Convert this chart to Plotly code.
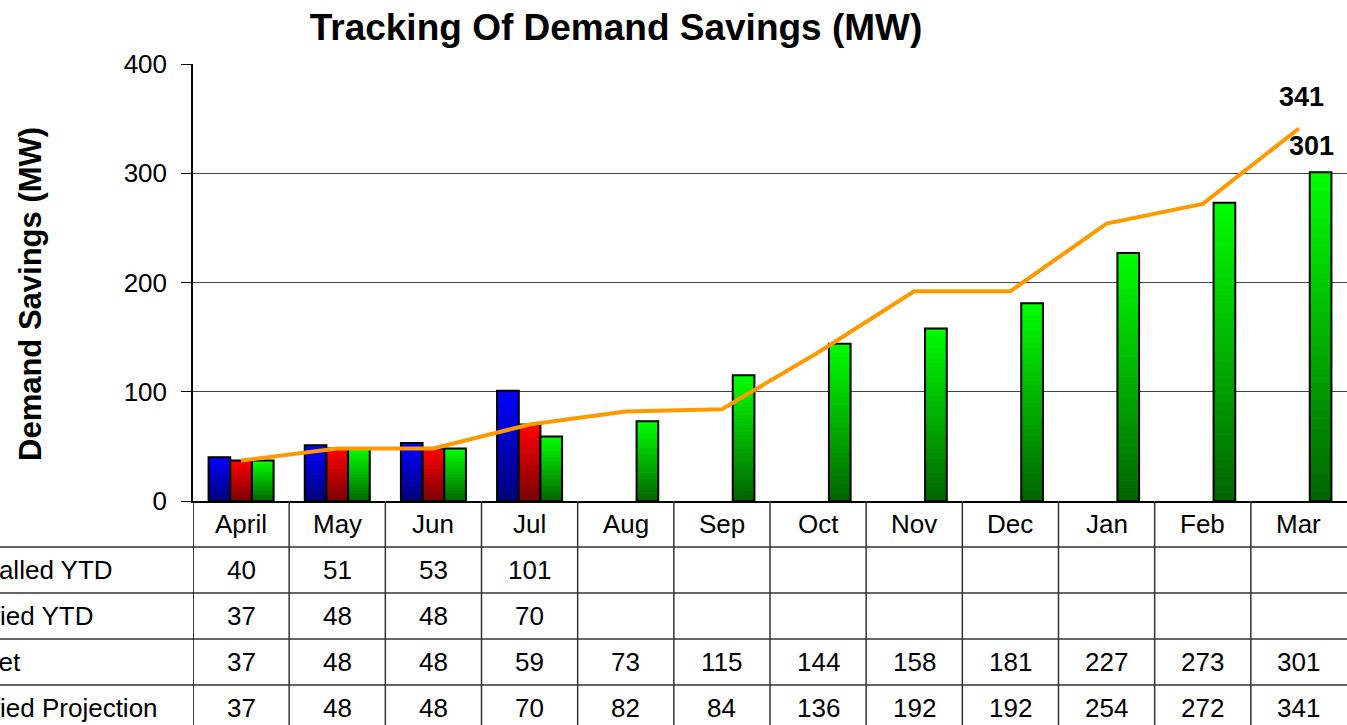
import plotly.graph_objects as go

months = ["April", "May", "Jun", "Jul", "Aug", "Sep", "Oct", "Nov", "Dec", "Jan", "Feb", "Mar"]
installed_ytd = [40, 51, 53, 101, None, None, None, None, None, None, None, None]
verified_ytd = [37, 48, 48, 70, None, None, None, None, None, None, None, None]
target = [37, 48, 48, 59, 73, 115, 144, 158, 181, 227, 273, 301]
verified_projection = [37, 48, 48, 70, 82, 84, 136, 192, 192, 254, 272, 341]
row_labels = ["Installed YTD", "Verified YTD", "Target", "Verified Projection"]
y_ticks = [0, 100, 200, 300, 400]

FONT = "Liberation Sans, Arial, sans-serif"
N_SEG = 36
TXT = 26

def lerp(c0, c1, t):
    return "rgb(%d,%d,%d)" % tuple(round(a + (b - a) * t) for a, b in zip(c0, c1))

fig = go.Figure()

series = [
    (installed_ytd, "inst", (0, 0, 120), (0, 0, 255), row_labels[0]),
    (verified_ytd, "ver", (120, 0, 0), (255, 0, 0), row_labels[1]),
    (target, "tgt", (0, 100, 0), (0, 255, 0), row_labels[2]),
]

for vals, grp, c_bot, c_top, name in series:
    for k in range(N_SEG):
        col = lerp(c_bot, c_top, (k + 0.5) / N_SEG)
        fig.add_trace(go.Bar(
            x=months,
            y=[v / N_SEG if v is not None else None for v in vals],
            base=[v * k / N_SEG if v is not None else None for v in vals],
            offsetgroup=grp,
            marker=dict(color=col, line=dict(color=col, width=1)),
            hoverinfo="skip", showlegend=False,
        ))
    fig.add_trace(go.Bar(
        x=months, y=vals, offsetgroup=grp, name=name,
        marker=dict(color="rgba(0,0,0,0)", line=dict(color="black", width=2)),
        showlegend=False,
    ))

fig.add_trace(go.Scatter(
    x=months, y=verified_projection, mode="lines", name=row_labels[3],
    line=dict(color="#FF9900", width=4), showlegend=False,
))

# table geometry (paper units relative to plot area)
plot_w = 1347 - 193
plot_h = 501 - 64
row_h = 46 / plot_h
left_edge = -193 / plot_w

shapes = []
for k in range(1, 5):
    shapes.append(dict(type="line", xref="paper", yref="paper",
                       x0=left_edge, x1=1, y0=-k * row_h, y1=-k * row_h,
                       line=dict(color="#333333", width=1.5)))
for i in range(len(months)):
    shapes.append(dict(type="line", xref="x", yref="paper",
                       x0=i - 0.5, x1=i - 0.5, y0=0, y1=-5 * row_h,
                       line=dict(color="#333333" if i else "black", width=1.5)))

annotations = []
table_rows = [installed_ytd, verified_ytd, target, verified_projection]
label_starts = [-45, -54, -54, -54]  # px left of the figure edge (labels run off the left side)
for r, (lab, vals) in enumerate(zip(row_labels, table_rows)):
    yc = -(r + 1.5) * row_h
    annotations.append(dict(x=left_edge + label_starts[r] / plot_w, xref="paper", y=yc, yref="paper",
                            text=lab, showarrow=False, xanchor="left", yanchor="middle",
                            font=dict(family=FONT, size=TXT, color="black")))
    for m, v in zip(months, vals):
        if v is None:
            continue
        annotations.append(dict(x=m, xref="x", y=yc, yref="paper", text=str(v),
                                showarrow=False, xanchor="center", yanchor="middle",
                                font=dict(family=FONT, size=TXT, color="black")))
for m in months:
    annotations.append(dict(x=m, xref="x", y=-0.5 * row_h, yref="paper", text=m,
                            showarrow=False, xanchor="center", yanchor="middle",
                            font=dict(family=FONT, size=TXT, color="black")))

annotations.append(dict(x=months[-1], y=verified_projection[-1], xref="x", yref="y",
                        text="<b>%d</b>" % verified_projection[-1], showarrow=False,
                        yanchor="bottom", yshift=14, xshift=3,
                        font=dict(family=FONT, size=27, color="black")))
annotations.append(dict(x=months[-1], y=target[-1], xref="x", yref="y",
                        text="<b>%d</b>" % target[-1], showarrow=False,
                        yanchor="bottom", yshift=9, xshift=13,
                        font=dict(family=FONT, size=27, color="black")))
annotations.append(dict(x=(30 - 193) / plot_w, xref="paper", y=(501 - 294) / plot_h, yref="paper",
                        text="<b>Demand Savings (MW)</b>", textangle=-90, showarrow=False,
                        xanchor="center", yanchor="middle",
                        font=dict(family=FONT, size=31, color="black")))

fig.update_layout(
    width=1347, height=725,
    margin=dict(l=193, r=0, t=64, b=224),
    paper_bgcolor="white", plot_bgcolor="white",
    barmode="group", bargap=0.324, bargroupgap=0,
    title=dict(text="<b>Tracking Of Demand Savings (MW)</b>", x=616 / 1347, xref="container",
               xanchor="center", y=1 - 27 / 725, yref="container", yanchor="middle",
               font=dict(family=FONT, size=37, color="black")),
    xaxis=dict(type="category", range=[-0.5, 11.5], showline=True, linecolor="black",
               linewidth=2, ticks="", showticklabels=False, showgrid=False, fixedrange=True),
    yaxis=dict(range=[0, 400], tickvals=y_ticks, showgrid=True, gridcolor="#444444",
               gridwidth=1.2, showline=True, linecolor="black", linewidth=1.5,
               ticks="outside", ticklen=10, tickcolor="black", tickwidth=1.2,
               tickfont=dict(family=FONT, size=TXT, color="black"), zeroline=False,
               ticklabelstandoff=9),
    shapes=shapes, annotations=annotations,
    font=dict(family=FONT, color="black"),
    showlegend=False,
)

fig.write_html("out.html", config={"displayModeBar": False},
               post_script="document.body.style.margin='0px';document.body.style.overflow='hidden';")
